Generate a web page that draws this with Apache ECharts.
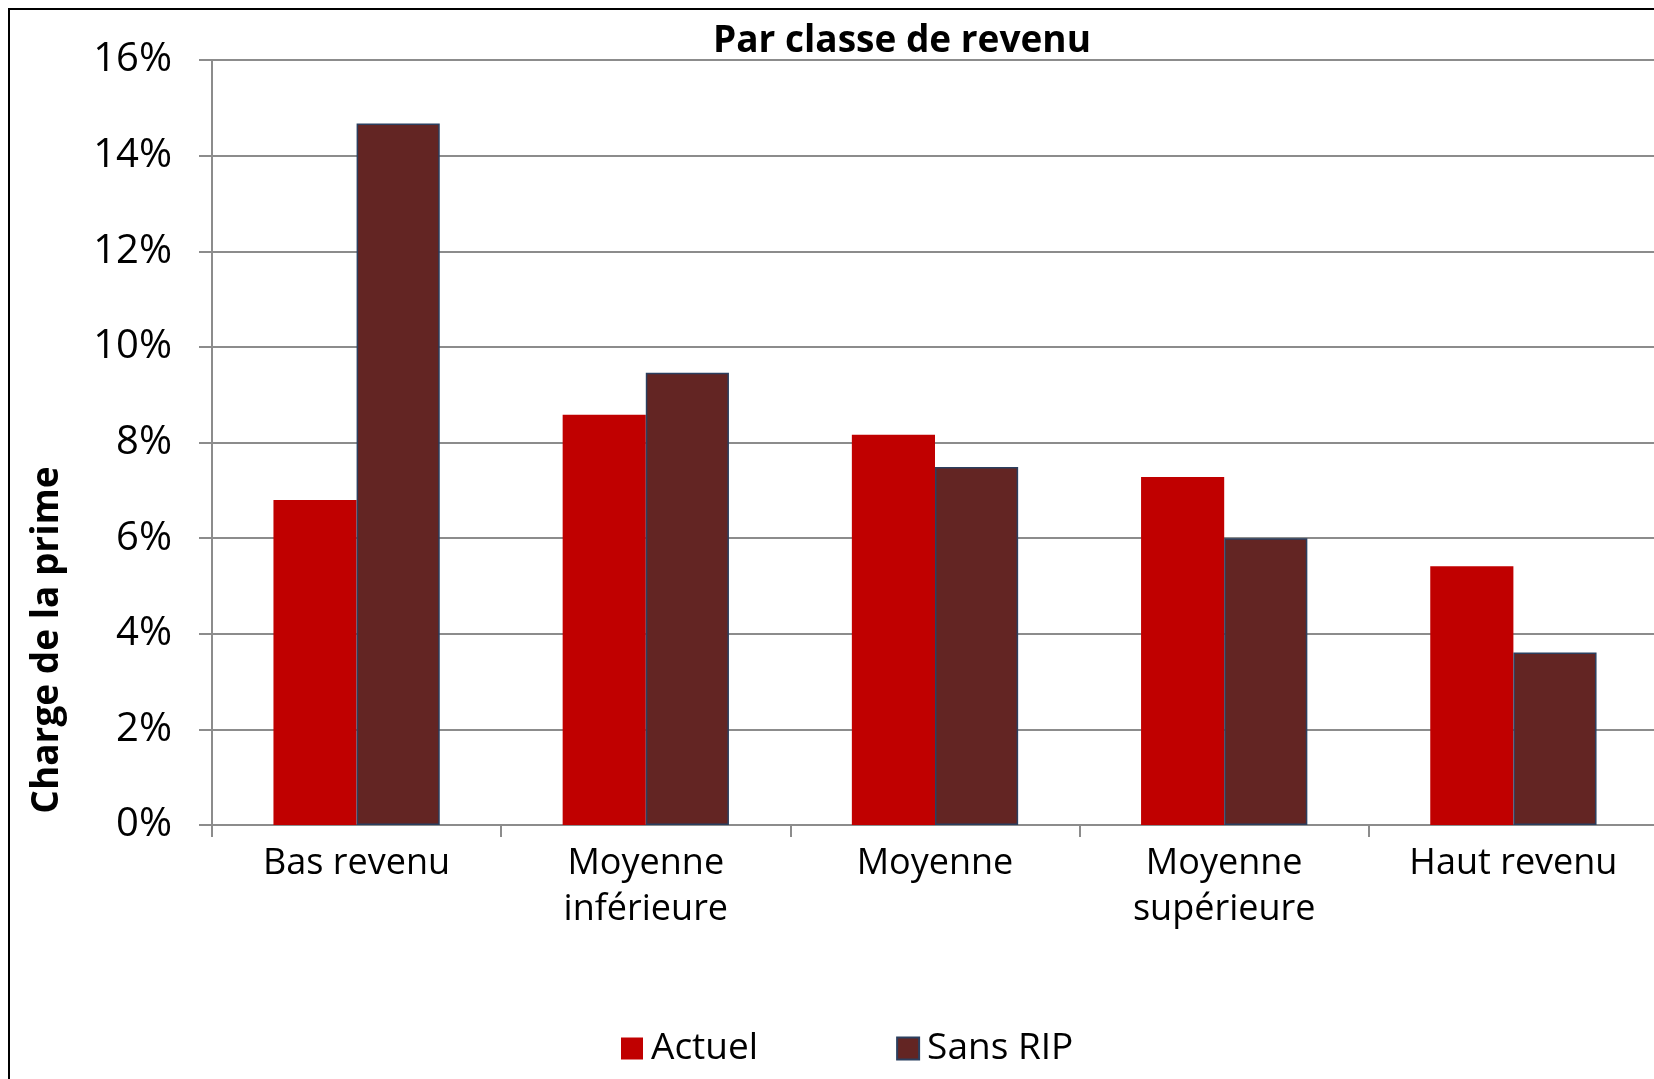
<!DOCTYPE html>
<html>
<head>
<meta charset="utf-8">
<script src="https://cdn.jsdelivr.net/npm/echarts@6/dist/echarts.min.js"></script>
<style>
  html, body { margin: 0; padding: 0; background: #fff; overflow: hidden; }
  /* the plot runs a few pixels past the right edge of the picture */
  #chart { width: 1658px; height: 1079px; }
</style>
</head>
<body>
<div id="chart"></div>
<script>
// categories and values (percent)
const categories = ["Bas revenu", "Moyenne\ninférieure", "Moyenne", "Moyenne\nsupérieure", "Haut revenu"];
const actuel = [6.8, 8.58, 8.16, 7.28, 5.41];
const sansRip = [14.67, 9.46, 7.49, 6.0, 3.61];
const yTicks = [0, 2, 4, 6, 8, 10, 12, 14, 16];

const fontFamily = "'Open Sans', 'Noto Sans', sans-serif";
const gridGray = "#8c8c8c";

const chart = echarts.init(document.getElementById("chart"));
chart.setOption({
  backgroundColor: "#fff",
  animation: false,
  textStyle: { fontFamily: fontFamily, color: "#000" },
  graphic: [
    {
      // outer frame of the chart (only left and top are visible)
      type: "rect",
      shape: { x: 9, y: 9, width: 1800, height: 1200 },
      style: { fill: "none", stroke: "#000", lineWidth: 2 },
      silent: true,
    },
    {
      // y axis title, sits lower than the middle of the axis
      type: "text",
      x: 47,
      y: 640,
      rotation: Math.PI / 2,
      style: {
        text: "Charge de la prime",
        font: "bold 37px " + fontFamily,
        fill: "#000",
        align: "center",
        verticalAlign: "middle",
      },
      silent: true,
    },
  ],
  title: {
    text: "Par classe de revenu",
    left: 708,
    top: 18,
    textStyle: { fontSize: 37, fontWeight: "bold", color: "#000", fontFamily: fontFamily },
  },
  legend: {
    data: ["Actuel", "Sans RIP"],
    left: 616,
    top: 1025,
    itemWidth: 22,
    itemHeight: 22,
    itemGap: 138,
    icon: "rect",
    textStyle: { fontSize: 37, color: "#000", fontFamily: fontFamily, padding: [0, 0, 0, 3] },
  },
  grid: {
    left: 212,
    right: 0,
    top: 60,
    bottom: 254,
    containLabel: false,
  },
  xAxis: {
    type: "category",
    data: categories,
    axisLine: { show: true, lineStyle: { color: gridGray, width: 2 } },
    axisTick: { show: true, length: 12, lineStyle: { color: gridGray, width: 2 } },
    axisLabel: {
      interval: 0,
      fontSize: 36,
      lineHeight: 46,
      margin: 16,
      color: "#000",
      fontFamily: fontFamily,
    },
  },
  yAxis: {
    type: "value",
    min: 0,
    max: 16,
    interval: 2,
    axisLine: { show: true, lineStyle: { color: gridGray, width: 2 } },
    axisTick: { show: true, length: 13, lineStyle: { color: gridGray, width: 2 } },
    axisLabel: {
      fontSize: 40,
      margin: 40,
      color: "#000",
      fontFamily: fontFamily,
      formatter: function (v) {
        return yTicks.indexOf(v) >= 0 ? v + "%" : "";
      },
    },
    splitLine: { show: true, lineStyle: { color: gridGray, width: 2 } },
  },
  series: [
    {
      name: "Actuel",
      type: "bar",
      data: actuel,
      barGap: "0%",
      barCategoryGap: "42.5%",
      itemStyle: { color: "#c00000" },
    },
    {
      name: "Sans RIP",
      type: "bar",
      data: sansRip,
      itemStyle: { color: "#632523", borderColor: "#2b3f5f", borderWidth: 1.5 },
    },
  ],
});
</script>
</body>
</html>
